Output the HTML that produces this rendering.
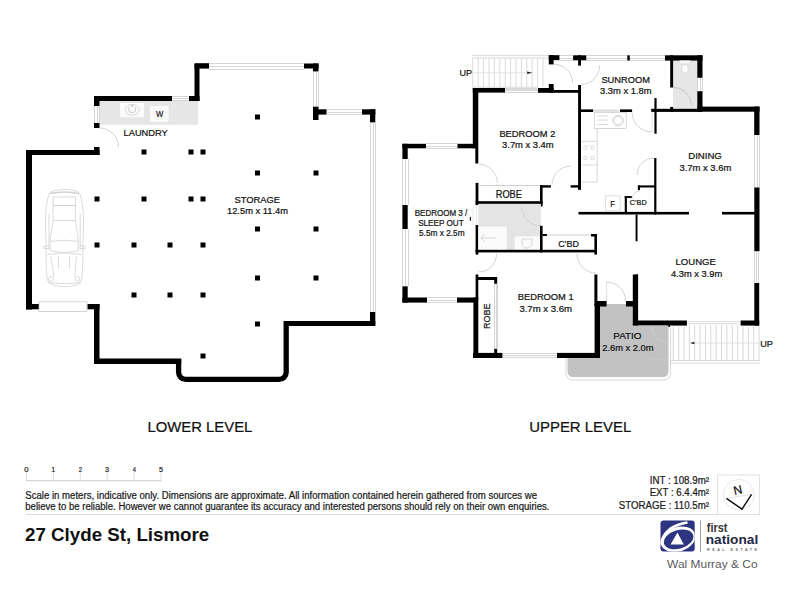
<!DOCTYPE html>
<html><head><meta charset="utf-8"><style>
html,body{margin:0;padding:0;background:#fff;overflow:hidden;}
svg{display:block;}
text{font-family:"Liberation Sans",sans-serif;}
</style></head><body>
<svg width="800" height="600" viewBox="0 0 800 600">
<rect width="800" height="600" fill="#fff"/>
<rect x="99.5" y="101" width="98.5" height="23.8" fill="#e6e6e6"/>
<rect x="120" y="103" width="24" height="14.3" fill="#fbfbfb"/>
<ellipse cx="132.3" cy="109.8" rx="7" ry="5.5" fill="none" stroke="#d0d0d0" stroke-width="0.8"/>
<path d="M128.8 106.6v3.6a3.4 2.6 0 0 0 6.8 0v-3.6" fill="none" stroke="#c8c8c8" stroke-width="0.9"/>
<circle cx="132" cy="105.8" r="1" fill="#bbb"/>
<rect x="149.5" y="105.3" width="19.5" height="16.8" fill="#fbfbfb" stroke="#e0e0e0" stroke-width="0.6"/>
<rect x="26" y="150" width="6" height="159.5" fill="#000"/>
<rect x="26" y="150" width="73.5" height="5" fill="#000"/>
<rect x="94" y="147" width="5.5" height="8" fill="#000"/>
<rect x="94" y="123" width="5.5" height="5" fill="#000"/>
<path d="M94.5 106V123M97.5 106V123M99.5 106V123" stroke="#d6d6d6" stroke-width="1" fill="none"/>
<rect x="94" y="96" width="5.5" height="10" fill="#000"/>
<rect x="94" y="96" width="78" height="5" fill="#000"/>
<path d="M172 96.5H189M172 98.5H189M172 100.5H189" stroke="#d6d6d6" stroke-width="1" fill="none"/>
<rect x="189" y="96" width="10.5" height="5" fill="#000"/>
<rect x="194.5" y="64" width="5.0" height="37" fill="#000"/>
<rect x="194.5" y="63.2" width="14.5" height="5.4" fill="#000"/>
<path d="M209 63.5H304M209 66.5H304M209 69.5H304" stroke="#d6d6d6" stroke-width="1" fill="none"/>
<rect x="304" y="63.5" width="14.5" height="5.0" fill="#000"/>
<rect x="313" y="63.5" width="5.5" height="8.0" fill="#000"/>
<path d="M313.5 71.5V106.7M316.5 71.5V106.7M318.5 71.5V106.7" stroke="#d6d6d6" stroke-width="1" fill="none"/>
<rect x="313" y="106.7" width="5.5" height="13.3" fill="#000"/>
<rect x="313" y="109.3" width="13.6" height="5.3" fill="#000"/>
<path d="M326.6 109.5H362M326.6 112.5H362M326.6 114.5H362" stroke="#d6d6d6" stroke-width="1" fill="none"/>
<rect x="362" y="109.3" width="13.3" height="5.3" fill="#000"/>
<rect x="370" y="109.3" width="5.3" height="13.1" fill="#000"/>
<path d="M370.5 122.4V312M373.5 122.4V312M375.5 122.4V312" stroke="#d6d6d6" stroke-width="1" fill="none"/>
<rect x="370" y="312" width="5.3" height="14" fill="#000"/>
<rect x="284" y="321" width="91.3" height="5" fill="#000"/>
<path d="M178.6 359V372.2a7.2 7.2 0 0 0 7.2 7.2H279a7.2 7.2 0 0 0 7.2 -7.2V321" stroke="#000" stroke-width="5.3" fill="none"/>
<rect x="94" y="358.5" width="87.2" height="5.5" fill="#000"/>
<rect x="94" y="304" width="5.5" height="60" fill="#000"/>
<rect x="87.3" y="304" width="12.2" height="5.3" fill="#000"/>
<rect x="39" y="301.8" width="48" height="9.7" fill="#fff" stroke="#d0d0d0" stroke-width="0.9"/>
<rect x="26" y="304" width="12.7" height="5.3" fill="#000"/>
<path d="M99.50 128.00A19 19 0 0 1 118.50 147.00" stroke="#c8c8c8" stroke-width="0.8" fill="none"/>
<rect x="255.0" y="114.5" width="5.0" height="5.0" fill="#000"/>
<rect x="141.5" y="149.5" width="5.0" height="5.0" fill="#000"/>
<rect x="188.5" y="149.5" width="5.0" height="5.0" fill="#000"/>
<rect x="200.5" y="149.5" width="5.0" height="5.0" fill="#000"/>
<rect x="255.0" y="170.5" width="5.0" height="5.0" fill="#000"/>
<rect x="313.5" y="170.5" width="5.0" height="5.0" fill="#000"/>
<rect x="94.5" y="196.5" width="5.0" height="5.0" fill="#000"/>
<rect x="141.5" y="196.5" width="5.0" height="5.0" fill="#000"/>
<rect x="188.5" y="196.5" width="5.0" height="5.0" fill="#000"/>
<rect x="200.5" y="196.5" width="5.0" height="5.0" fill="#000"/>
<rect x="255.0" y="226.5" width="5.0" height="5.0" fill="#000"/>
<rect x="313.5" y="226.5" width="5.0" height="5.0" fill="#000"/>
<rect x="94.5" y="242.5" width="5.0" height="5.0" fill="#000"/>
<rect x="131.5" y="242.5" width="5.0" height="5.0" fill="#000"/>
<rect x="167.5" y="242.5" width="5.0" height="5.0" fill="#000"/>
<rect x="200.5" y="242.5" width="5.0" height="5.0" fill="#000"/>
<rect x="255.0" y="275.5" width="5.0" height="5.0" fill="#000"/>
<rect x="313.5" y="275.5" width="5.0" height="5.0" fill="#000"/>
<rect x="131.5" y="292.5" width="5.0" height="5.0" fill="#000"/>
<rect x="167.5" y="292.5" width="5.0" height="5.0" fill="#000"/>
<rect x="200.5" y="292.5" width="5.0" height="5.0" fill="#000"/>
<rect x="255.0" y="321.5" width="5.0" height="5.0" fill="#000"/>
<rect x="200.5" y="353.5" width="5.0" height="5.0" fill="#000"/>
<g fill="none" stroke="#d2d2d2" stroke-width="0.8">
<path d="M49 194Q52 189.5 64.5 189.5Q77 189.5 80 194Q83.5 205 83.5 222L82.8 252Q83.2 270 81.6 280Q80 286.3 64.5 286.6Q49 286.3 47.4 280Q45.8 270 46.2 252L45.5 222Q45.5 205 49 194Z"/>
<path d="M50 193.6Q64.5 190.3 79 193.6" stroke-width="1.5"/>
<rect x="53.1" y="196.9" width="22.5" height="8.7"/>
<rect x="53.1" y="205.6" width="22.5" height="14.7"/>
<path d="M53.1 220.3L50 241.4M75.6 220.3L78.4 241.4"/>
<path d="M50 241.4Q64.2 239 78.4 241.4L78 251Q64 254 50.5 251Z"/>
<path d="M49 214V250M80.2 214V250"/>
<path d="M49 245.5L43.5 246.5V248.5H49M80 245.5L85 246.5V248.5H80"/>
<path d="M47.5 254.5Q64.5 251.5 81.5 254.5"/>
<path d="M50.8 256L54 277M76.5 256L74.7 277M58.2 255.5L58.5 268M69.7 255.5L69.5 268"/>
<circle cx="50.8" cy="279" r="2.4"/><circle cx="77.4" cy="279" r="2.4"/>
<path d="M48 282.7Q64.5 284.8 81 282.7"/>
</g>
<g fill="none" stroke="#d2d2d2" stroke-width="0.8">
<path d="M472.5 55.6H548.5M472.5 58H548.5M472.5 87.2H538M472.5 89.6H538"/>
<path d="M472.8 58V87.2M478.2 58V87.2M483.6 58V87.2M489.0 58V87.2M494.4 58V87.2M499.8 58V87.2M505.2 58V87.2M510.6 58V87.2M516.0 58V87.2M521.4 58V87.2M526.8 58V87.2M532.2 58V87.2M537.6 58V87.2M543.0 58V87.2"/>
<path d="M472.5 72.8H527" stroke="#dcdcdc"/>
</g>
<path d="M527.2 71.6L532.4 72.8L527.2 74Z" fill="#222"/>
<path d="M553.7 55.5H573M553.7 58.5H573M553.7 60.5H573" stroke="#d6d6d6" stroke-width="1" fill="none"/>
<path d="M586 55.5H627.3M586 58.5H627.3M586 60.5H627.3" stroke="#d6d6d6" stroke-width="1" fill="none"/>
<path d="M629.8 55.5H665M629.8 58.5H665M629.8 60.5H665" stroke="#d6d6d6" stroke-width="1" fill="none"/>
<rect x="548.8" y="55.2" width="10.6" height="4.8" fill="#000"/>
<rect x="548.8" y="55.2" width="4.8" height="9.2" fill="#000"/>
<rect x="573.1" y="55.3" width="13.15" height="5.0" fill="#000"/>
<rect x="578.1" y="55.3" width="2.9" height="10.3" fill="#000"/>
<rect x="627.3" y="55.3" width="2.5" height="5.3" fill="#000"/>
<rect x="673" y="60.6" width="24.5" height="48.2" fill="#e6e6e6"/>
<rect x="665" y="55.3" width="37.5" height="5.3" fill="#000"/>
<rect x="670.2" y="55.3" width="2.9" height="32.2" fill="#000"/>
<rect x="670.2" y="106.9" width="2.9" height="5.0" fill="#000"/>
<rect x="697.3" y="55.3" width="5.2" height="22.5" fill="#000"/>
<path d="M697.5 77.8V91.2M700.5 77.8V91.2M702.5 77.8V91.2" stroke="#d6d6d6" stroke-width="1" fill="none"/>
<rect x="697.3" y="91.2" width="5.2" height="20.7" fill="#000"/>
<rect x="680" y="60.6" width="10" height="3.2" fill="#fbfbfb" stroke="#d8d8d8" stroke-width="0.5"/>
<ellipse cx="685" cy="68.8" rx="3.2" ry="4.2" fill="#fbfbfb" stroke="#d0d0d0" stroke-width="0.6"/>
<path d="M673.10 87.40A18.2 18.2 0 0 1 691.30 105.60" stroke="#c0c0c0" stroke-width="0.8" fill="none"/>
<rect x="651.2" y="108.8" width="46.3" height="3.1" fill="#000"/>
<rect x="697.3" y="106.6" width="62.2" height="5.1" fill="#000"/>
<rect x="754.2" y="106.6" width="5.3" height="28.4" fill="#000"/>
<path d="M754.5 135V187.5M757.5 135V187.5M759.5 135V187.5" stroke="#d6d6d6" stroke-width="1" fill="none"/>
<rect x="754.3" y="187.5" width="5.2" height="63.8" fill="#000"/>
<path d="M754.5 251.3V283M756.5 251.3V283M758.5 251.3V283" stroke="#d6d6d6" stroke-width="1" fill="none"/>
<rect x="754.3" y="283" width="4.9" height="42.6" fill="#000"/>
<rect x="632.8" y="320.5" width="54.1" height="5.1" fill="#000"/>
<rect x="740.6" y="320.5" width="18.6" height="5.1" fill="#000"/>
<g fill="none" stroke="#cfcfcf" stroke-width="0.8">
<path d="M686.9 321.7H740.6M686.9 323.8H740.6M670 360.5H760M670 363.1H760"/>
<path d="M673.3 325.6V360.5M678.7 325.6V360.5M684.0 325.6V360.5M689.4 325.6V360.5M694.7 325.6V360.5M700.1 325.6V360.5M705.5 325.6V360.5M710.8 325.6V360.5M716.2 325.6V360.5M721.5 325.6V360.5M726.9 325.6V360.5M732.3 325.6V360.5M737.6 325.6V360.5M743.0 325.6V360.5M748.3 325.6V360.5M753.7 325.6V360.5M759.1 325.6V360.5M670.6 325.6V363.1"/>
<path d="M694 343H759" stroke="#d8d8d8"/>
</g>
<path d="M694.3 341.8L689.9 343L694.3 344.2Z" fill="#222"/>
<rect x="667" y="324.6" width="3" height="2.4" fill="#000"/>
<path d="M606.6 304H626V306.7H635.3V325.6H668.5V371.5a5.5 5.5 0 0 1 -5.5 5.5H573a5.5 5.5 0 0 1 -5.5 -5.5V357.5H600V306.7H606.6Z" fill="#c2c2c2"/>
<path d="M566 358V373.5a6.5 6.5 0 0 0 6.5 6.5H664a6.5 6.5 0 0 0 6.5 -6.5V363" fill="none" stroke="#d8d8d8" stroke-width="1"/>
<path d="M651.50 326.00A16.5 16.5 0 0 0 668.00 342.50" stroke="#d2d2d2" stroke-width="0.8" fill="none"/>
<path d="M650 359.3L668 359.3" stroke="#cfcfcf" stroke-width="0.6" fill="none"/>
<rect x="595" y="301" width="11.6" height="5.6" fill="#000"/>
<rect x="626" y="301" width="9.3" height="5.6" fill="#000"/>
<rect x="632.8" y="274.5" width="5.3" height="51.1" fill="#000"/>
<rect x="635.1" y="274.5" width="2.8" height="26.5" fill="#000"/>
<path d="M606.60 282.00A19 19 0 0 1 625.60 301.00" stroke="#c4c4c4" stroke-width="0.8" fill="none"/>
<path d="M606.6 282L606.6 301" stroke="#d0d0d0" stroke-width="0.7" fill="none"/>
<rect x="594.4" y="274.5" width="3.0" height="31.5" fill="#000"/>
<rect x="594.6" y="304" width="5.4" height="54" fill="#000"/>
<rect x="473" y="352.9" width="29.5" height="5.1" fill="#000"/>
<path d="M502.5 353.5H557M502.5 355.5H557M502.5 357.5H557" stroke="#d6d6d6" stroke-width="1" fill="none"/>
<rect x="557" y="352.9" width="43" height="5.1" fill="#000"/>
<rect x="475.6" y="274.5" width="2.7" height="25.5" fill="#000"/>
<rect x="473.4" y="297.5" width="4.9" height="60.5" fill="#000"/>
<rect x="478" y="277" width="19" height="3" fill="#000"/>
<rect x="494.2" y="277" width="3.0" height="6.8" fill="#000"/>
<rect x="494.2" y="348.8" width="3.0" height="8.2" fill="#000"/>
<path d="M494.5 283.8V348.8M496.5 283.8V348.8M497.5 283.8V348.8" stroke="#d6d6d6" stroke-width="1" fill="none"/>
<rect x="402.4" y="286.3" width="5.3" height="16.3" fill="#000"/>
<rect x="402.4" y="297.5" width="24.6" height="5.1" fill="#000"/>
<path d="M427 297.5H457M427 300.5H457M427 302.5H457" stroke="#d6d6d6" stroke-width="1" fill="none"/>
<rect x="457" y="297.5" width="19" height="5.1" fill="#000"/>
<rect x="402.4" y="143.8" width="5.3" height="15.2" fill="#000"/>
<path d="M402.5 159V205M405.5 159V205M408.5 159V205" stroke="#d6d6d6" stroke-width="1" fill="none"/>
<rect x="402.4" y="205" width="5.3" height="24" fill="#000"/>
<path d="M402.5 229V286.3M405.5 229V286.3M408.5 229V286.3" stroke="#d6d6d6" stroke-width="1" fill="none"/>
<rect x="402.4" y="143.8" width="23.6" height="4.5" fill="#000"/>
<path d="M426 143.5H457.5M426 146.5H457.5M426 148.5H457.5" stroke="#d6d6d6" stroke-width="1" fill="none"/>
<rect x="457.5" y="143.8" width="18.5" height="4.5" fill="#000"/>
<rect x="472.8" y="88" width="5.5" height="60.3" fill="#000"/>
<rect x="475.3" y="148" width="3.0" height="15.5" fill="#000"/>
<rect x="472.8" y="88" width="32.2" height="4.6" fill="#000"/>
<path d="M505 88.5H538M505 90.5H538M505 92.5H538" stroke="#d6d6d6" stroke-width="1" fill="none"/>
<rect x="538" y="88" width="15.6" height="4.8" fill="#000"/>
<rect x="548.8" y="84" width="4.8" height="8.8" fill="#000"/>
<rect x="553.6" y="90" width="26.9" height="2.8" fill="#000"/>
<rect x="578.1" y="85" width="2.9" height="104.9" fill="#000"/>
<path d="M478.30 164.00A19 19 0 0 1 497.30 183.00" stroke="#c8c8c8" stroke-width="0.8" fill="none"/>
<path d="M553.75 64.20A19 19 0 0 1 572.75 83.20" stroke="#c8c8c8" stroke-width="0.8" fill="none"/>
<path d="M580.60 84.60A19 19 0 0 0 599.60 65.60" stroke="#c8c8c8" stroke-width="0.8" fill="none"/>
<rect x="581" y="109.4" width="12.1" height="2.6" fill="#000"/>
<rect x="593.1" y="109.6" width="26.3" height="2.2" fill="#dcdcdc"/>
<rect x="620" y="109.4" width="12.1" height="2.6" fill="#000"/>
<rect x="654.4" y="98.1" width="2.2" height="35.6" fill="#000"/>
<path d="M632.00 112.00A20 20 0 0 0 652.00 132.00" stroke="#c8c8c8" stroke-width="0.8" fill="none"/>
<path d="M652 112L652 132" stroke="#d0d0d0" stroke-width="0.6" fill="none"/>
<g fill="none" stroke="#d0d0d0" stroke-width="0.8">
<rect x="594.4" y="112.5" width="31.8" height="16"/>
<path d="M597 116H608M597 120H608M597 124.5H608"/>
<circle cx="618.1" cy="120.6" r="5.4"/><circle cx="618.1" cy="120.6" r="4.2"/>
<path d="M581 141.3H597.2M597.2 128.5V182M581 165H597.2M581 182H597.2"/>
<circle cx="585.5" cy="147.5" r="1.8"/><circle cx="592.5" cy="147.5" r="1.8"/><circle cx="585.5" cy="158" r="1.8"/><circle cx="592.5" cy="158" r="1.8"/>
</g>
<rect x="654.2" y="158" width="2.2" height="56.5" fill="#000"/>
<path d="M637.20 175.00A17 17 0 0 1 654.20 158.00" stroke="#c8c8c8" stroke-width="0.8" fill="none"/>
<rect x="578.5" y="211.9" width="110.5" height="2.6" fill="#000"/>
<rect x="722" y="211.9" width="33" height="2.6" fill="#000"/>
<rect x="635.6" y="214.5" width="1.9" height="26.8" fill="#000"/>
<rect x="624.75" y="196.1" width="2.15" height="16.9" fill="#000"/>
<rect x="624.75" y="196.1" width="7.15" height="1.9" fill="#000"/>
<rect x="637.9" y="185.4" width="17.6" height="2.1" fill="#000"/>
<rect x="637.9" y="185.4" width="2.1" height="4.7" fill="#000"/>
<rect x="605.3" y="195.8" width="14.9" height="14.9" fill="#fff" stroke="#d8d8d8" stroke-width="0.8"/>
<path d="M640.00 191.00A8 8 0 0 0 632.00 199.00" stroke="#d0d0d0" stroke-width="0.8" fill="none"/>
<rect x="475.6" y="182.9" width="2.8" height="22.2" fill="#000"/>
<rect x="475.6" y="225" width="2.8" height="29.6" fill="#000"/>
<path d="M478.4 185.5L540 185.5" stroke="#d0d0d0" stroke-width="1.2" fill="none"/>
<rect x="475.6" y="201.2" width="67.0" height="2.7" fill="#000"/>
<rect x="540" y="185.2" width="2.6" height="21.3" fill="#000"/>
<rect x="540" y="185.2" width="10.9" height="2.4" fill="#000"/>
<rect x="478.4" y="203.9" width="62.5" height="46.3" fill="#e4e4e4"/>
<rect x="478.4" y="226.6" width="28.3" height="23.6" fill="#fbfbfb"/>
<path d="M481 238H496M485 234L481 238L485 242" stroke="#cfcfcf" stroke-width="0.8" fill="none"/>
<rect x="514.6" y="236.3" width="25.4" height="13.9" fill="#fbfbfb"/>
<path d="M522 239h10v5a5 4 0 0 1 -10 0z" fill="none" stroke="#cfcfcf" stroke-width="0.8"/>
<path d="M521.50 206.50A19 19 0 0 0 540.50 225.50" stroke="#cfcfcf" stroke-width="0.8" fill="none"/>
<rect x="540" y="225.8" width="2.6" height="26.6" fill="#000"/>
<rect x="542.6" y="234" width="4.3" height="2" fill="#000"/>
<path d="M546.9 235L591 235" stroke="#d0d0d0" stroke-width="1.1" fill="none"/>
<rect x="591" y="234" width="6" height="2.5" fill="#000"/>
<rect x="594.4" y="234" width="2.6" height="20.6" fill="#000"/>
<rect x="475.6" y="249.8" width="121.4" height="2.6" fill="#000"/>
<rect x="570.6" y="185.2" width="10.0" height="2.4" fill="#000"/>
<path d="M552.00 185.00A19 19 0 0 1 571.00 166.00" stroke="#c8c8c8" stroke-width="0.8" fill="none"/>
<path d="M473.2 205.7L473.2 225" stroke="#dcdcdc" stroke-width="0.7" fill="none"/>
<path d="M476.5 205.7L476.5 225" stroke="#dcdcdc" stroke-width="0.7" fill="none"/>
<rect x="469.8" y="216.8" width="1.2" height="4.0" fill="#222"/>
<path d="M496.50 254.00A18 18 0 0 1 478.50 272.00" stroke="#c8c8c8" stroke-width="0.8" fill="none"/>
<path d="M577.00 254.00A19 19 0 0 0 596.00 273.00" stroke="#c8c8c8" stroke-width="0.8" fill="none"/>
<text x="156.12" y="117.3" font-size="9.4" font-weight="normal" fill="#111" stroke="#111" stroke-width="0.22" textLength="7.32" lengthAdjust="spacingAndGlyphs">W</text>
<text x="123.55" y="135.5" font-size="9.7" font-weight="normal" fill="#111" stroke="#111" stroke-width="0.22" textLength="44.15" lengthAdjust="spacingAndGlyphs">LAUNDRY</text>
<text x="234.40" y="203" font-size="9.5" font-weight="normal" fill="#111" stroke="#111" stroke-width="0.22" textLength="45.60" lengthAdjust="spacingAndGlyphs">STORAGE</text>
<text x="227.00" y="214.3" font-size="9.5" font-weight="normal" fill="#111" stroke="#111" stroke-width="0.22" textLength="61.00" lengthAdjust="spacingAndGlyphs">12.5m x 11.4m</text>
<text x="459.39" y="75.8" font-size="9.8" font-weight="normal" fill="#111" stroke="#111" stroke-width="0.22" textLength="12.61" lengthAdjust="spacingAndGlyphs">UP</text>
<text x="760.23" y="346.5" font-size="9.8" font-weight="normal" fill="#111" stroke="#111" stroke-width="0.22" textLength="12.77" lengthAdjust="spacingAndGlyphs">UP</text>
<text x="601.40" y="82.8" font-size="9.8" font-weight="normal" fill="#111" stroke="#111" stroke-width="0.22" textLength="48.60" lengthAdjust="spacingAndGlyphs">SUNROOM</text>
<text x="600.00" y="93.8" font-size="9.8" font-weight="normal" fill="#111" stroke="#111" stroke-width="0.22" textLength="51.60" lengthAdjust="spacingAndGlyphs">3.3m x 1.8m</text>
<text x="499.40" y="136.8" font-size="9.8" font-weight="normal" fill="#111" stroke="#111" stroke-width="0.22" textLength="56.00" lengthAdjust="spacingAndGlyphs">BEDROOM 2</text>
<text x="502.09" y="148.2" font-size="9.8" font-weight="normal" fill="#111" stroke="#111" stroke-width="0.22" textLength="51.52" lengthAdjust="spacingAndGlyphs">3.7m x 3.4m</text>
<text x="688.29" y="159.4" font-size="9.8" font-weight="normal" fill="#111" stroke="#111" stroke-width="0.22" textLength="33.52" lengthAdjust="spacingAndGlyphs">DINING</text>
<text x="679.39" y="171.1" font-size="9.8" font-weight="normal" fill="#111" stroke="#111" stroke-width="0.22" textLength="52.02" lengthAdjust="spacingAndGlyphs">3.7m x 3.6m</text>
<text x="675.59" y="265.4" font-size="9.8" font-weight="normal" fill="#111" stroke="#111" stroke-width="0.22" textLength="40.21" lengthAdjust="spacingAndGlyphs">LOUNGE</text>
<text x="670.90" y="276.7" font-size="9.8" font-weight="normal" fill="#111" stroke="#111" stroke-width="0.22" textLength="51.40" lengthAdjust="spacingAndGlyphs">4.3m x 3.9m</text>
<text x="414.70" y="216.0" font-size="9.2" font-weight="normal" fill="#111" stroke="#111" stroke-width="0.22" textLength="52.61" lengthAdjust="spacingAndGlyphs">BEDROOM 3 /</text>
<text x="418.20" y="226.1" font-size="9.2" font-weight="normal" fill="#111" stroke="#111" stroke-width="0.22" textLength="45.40" lengthAdjust="spacingAndGlyphs">SLEEP OUT</text>
<text x="419.00" y="236.2" font-size="9.2" font-weight="normal" fill="#111" stroke="#111" stroke-width="0.22" textLength="45.60" lengthAdjust="spacingAndGlyphs">5.5m x 2.5m</text>
<text x="517.79" y="300.3" font-size="9.8" font-weight="normal" fill="#111" stroke="#111" stroke-width="0.22" textLength="55.82" lengthAdjust="spacingAndGlyphs">BEDROOM 1</text>
<text x="519.39" y="311.7" font-size="9.8" font-weight="normal" fill="#111" stroke="#111" stroke-width="0.22" textLength="52.71" lengthAdjust="spacingAndGlyphs">3.7m x 3.6m</text>
<text x="613.27" y="339.4" font-size="9.8" font-weight="normal" fill="#111" stroke="#111" stroke-width="0.22" textLength="28.35" lengthAdjust="spacingAndGlyphs">PATIO</text>
<text x="602.19" y="351.2" font-size="9.8" font-weight="normal" fill="#111" stroke="#111" stroke-width="0.22" textLength="51.41" lengthAdjust="spacingAndGlyphs">2.6m x 2.0m</text>
<text x="495.73" y="197.5" font-size="10.3" font-weight="normal" fill="#111" stroke="#111" stroke-width="0.22" textLength="26.27" lengthAdjust="spacingAndGlyphs">ROBE</text>
<text x="558.19" y="247.0" font-size="9.8" font-weight="normal" fill="#111" stroke="#111" stroke-width="0.22" textLength="20.81" lengthAdjust="spacingAndGlyphs">C’BD</text>
<text x="629.78" y="205.1" font-size="8.0" font-weight="normal" fill="#111" stroke="#111" stroke-width="0.22" textLength="16.92" lengthAdjust="spacingAndGlyphs">C’BD</text>
<text x="610.29" y="206.6" font-size="9.8" font-weight="normal" fill="#111" stroke="#111" stroke-width="0.22" textLength="4.71" lengthAdjust="spacingAndGlyphs">F</text>
<text x="147.39" y="432" font-size="15.2" font-weight="normal" fill="#111" stroke="#111" stroke-width="0.22" textLength="105.01" lengthAdjust="spacingAndGlyphs">LOWER LEVEL</text>
<text x="529.25" y="432" font-size="15.2" font-weight="normal" fill="#111" stroke="#111" stroke-width="0.22" textLength="102.00" lengthAdjust="spacingAndGlyphs">UPPER LEVEL</text>
<text x="25.25" y="498.7" font-size="10.0" font-weight="normal" fill="#1a1a1a" stroke="#1a1a1a" stroke-width="0.22" textLength="511.75" lengthAdjust="spacingAndGlyphs">Scale in meters, indicative only. Dimensions are approximate. All information contained herein gathered from sources we</text>
<text x="25.25" y="510.1" font-size="10.0" font-weight="normal" fill="#1a1a1a" stroke="#1a1a1a" stroke-width="0.22" textLength="524.25" lengthAdjust="spacingAndGlyphs">believe to be reliable. However we cannot guarantee its accuracy and interested persons should rely on their own enquiries.</text>
<text x="25.00" y="541.1" font-size="18.5" font-weight="bold" fill="#111" textLength="184.25" lengthAdjust="spacingAndGlyphs">27 Clyde St, Lismore</text>
<text x="649.70" y="483.5" font-size="10.0" font-weight="normal" fill="#1a1a1a" stroke="#1a1a1a" stroke-width="0.22" textLength="59.30" lengthAdjust="spacingAndGlyphs">INT : 108.9m²</text>
<text x="649.70" y="496.1" font-size="10.0" font-weight="normal" fill="#1a1a1a" stroke="#1a1a1a" stroke-width="0.22" textLength="59.30" lengthAdjust="spacingAndGlyphs">EXT : 6.4.4m²</text>
<text x="618.70" y="509.2" font-size="10.0" font-weight="normal" fill="#1a1a1a" stroke="#1a1a1a" stroke-width="0.22" textLength="90.30" lengthAdjust="spacingAndGlyphs">STORAGE : 110.5m²</text>
<text x="706.78" y="532" font-size="12.6" font-weight="bold" fill="#363636" textLength="20.75" lengthAdjust="spacingAndGlyphs">first</text>
<text x="705.78" y="543.6" font-size="12.6" font-weight="bold" fill="#232846" textLength="52.44" lengthAdjust="spacingAndGlyphs">national</text>
<text x="667.09" y="567.6" font-size="11.6" font-weight="normal" fill="#5a5a5a" textLength="90.51" lengthAdjust="spacingAndGlyphs">Wal Murray &amp; Co</text>
<text x="24.37" y="471.8" font-size="7.4" font-weight="normal" fill="#222" stroke="#222" stroke-width="0.22" textLength="4.27" lengthAdjust="spacingAndGlyphs">0</text>
<text x="51.43" y="471.8" font-size="7.4" font-weight="normal" fill="#222" stroke="#222" stroke-width="0.22" textLength="3.57" lengthAdjust="spacingAndGlyphs">1</text>
<text x="78.78" y="471.8" font-size="7.4" font-weight="normal" fill="#222" stroke="#222" stroke-width="0.22" textLength="3.20" lengthAdjust="spacingAndGlyphs">2</text>
<text x="104.90" y="471.8" font-size="7.4" font-weight="normal" fill="#222" stroke="#222" stroke-width="0.22" textLength="4.00" lengthAdjust="spacingAndGlyphs">3</text>
<text x="132.78" y="471.8" font-size="7.4" font-weight="normal" fill="#222" stroke="#222" stroke-width="0.22" textLength="3.20" lengthAdjust="spacingAndGlyphs">4</text>
<text x="158.90" y="471.8" font-size="7.4" font-weight="normal" fill="#222" stroke="#222" stroke-width="0.22" textLength="4.00" lengthAdjust="spacingAndGlyphs">5</text>
<text x="0" y="0" font-size="9.3" fill="#111" stroke="#111" stroke-width="0.22" text-anchor="middle" textLength="25.6" lengthAdjust="spacingAndGlyphs" transform="translate(490,316.2) rotate(-90)">ROBE</text>
<path d="M26.5 480.6H161.5" stroke="#d6d6d6" stroke-width="1.4"/>
<path d="M26.5 472V481.5" stroke="#d8d8d8" stroke-width="0.8"/>
<path d="M53.4 472V481.5" stroke="#d8d8d8" stroke-width="0.8"/>
<path d="M80.3 472V481.5" stroke="#d8d8d8" stroke-width="0.8"/>
<path d="M107.2 472V481.5" stroke="#d8d8d8" stroke-width="0.8"/>
<path d="M134.1 472V481.5" stroke="#d8d8d8" stroke-width="0.8"/>
<path d="M161.0 472V481.5" stroke="#d8d8d8" stroke-width="0.8"/>
<path d="M26 514.5H759" stroke="#dcdcdc" stroke-width="1"/>
<rect x="717.6" y="475" width="42.0" height="39.4" fill="#fff" stroke="#dedede" stroke-width="0.9"/>
<circle cx="738.8" cy="494.8" r="15.4" fill="#fff" stroke="#e2e2e2" stroke-width="0.8"/>
<path d="M726.4 498.4L751.6 494.4" stroke="#dedede" stroke-width="0.8"/>
<path d="M726.4 498.4L742 509.2L751.6 494.4" fill="none" stroke="#111" stroke-width="1.4"/>
<text x="0" y="0" font-size="12" fill="#111" stroke="#111" stroke-width="0.2" text-anchor="middle" transform="translate(738.6,494) rotate(-13)">N</text>
<clipPath id="lc"><rect x="660.5" y="520.6" width="34.2" height="30.8" rx="3"/></clipPath>
<rect x="660.5" y="520.6" width="34.2" height="30.8" rx="3" fill="#2e3580"/>
<g clip-path="url(#lc)"><ellipse cx="678" cy="539.3" rx="17.8" ry="12.2" transform="rotate(-17 678 539.3)" fill="#fff"/><ellipse cx="678.6" cy="539.4" rx="15.2" ry="9.3" transform="rotate(-17 678.6 539.4)" fill="#2e3580"/><path d="M661.3 544.5C661.8 538.5 664.8 533.2 669.8 529.2C674.8 525.6 680.5 523.6 687.5 522.5" fill="none" stroke="#fff" stroke-width="2.7"/></g>
<path d="M677.4 532.6L670.6 544.6H683.8Z" fill="#fff"/>
<path d="M700.5 520.5V552" stroke="#8a8a8a" stroke-width="0.8"/>
<text x="707" y="550.8" font-size="3.7" font-weight="bold" fill="#6a6a6a" textLength="50" lengthAdjust="spacing">REAL ESTATE</text>
</svg>
</body></html>
